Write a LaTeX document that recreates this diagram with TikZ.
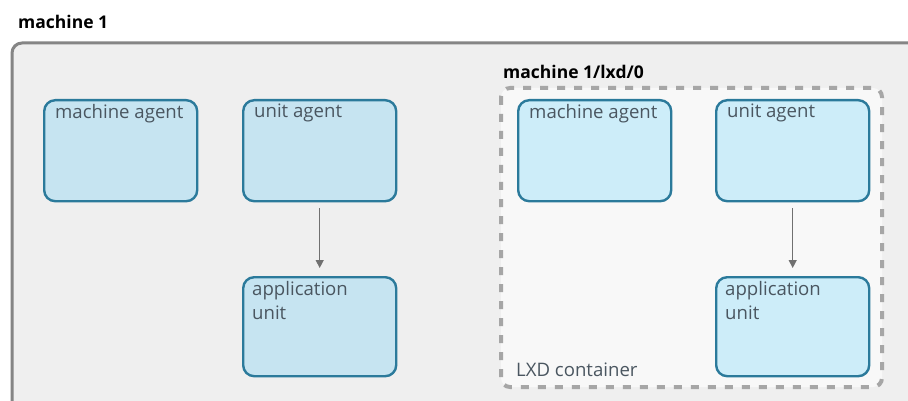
\documentclass[tikz,border=0pt]{standalone}
\usepackage{fontspec}
\setmainfont{Open Sans}
\usetikzlibrary{arrows.meta}
\definecolor{hostfill}{HTML}{EFEFEF}
\definecolor{hostline}{HTML}{858585}
\definecolor{lxdfill}{HTML}{F8F8F8}
\definecolor{lxdline}{HTML}{A6A6A6}
\definecolor{agentfillA}{HTML}{C6E4F1}
\definecolor{agentfillB}{HTML}{CDEDF9}
\definecolor{agentline}{HTML}{2B7A9B}
\definecolor{agenttext}{HTML}{4A5660}
\definecolor{linkline}{HTML}{707070}
\tikzset{
  agentbox/.style={draw=agentline, line width=2.4pt, rounded corners=11pt,
    minimum width=153pt, minimum height=101pt, anchor=north west, inner sep=0pt},
  agentlabel/.style={anchor=north west, align=left, text=agenttext,
    font=\fontsize{18.6}{24}\selectfont, inner sep=0pt},
  titlelabel/.style={anchor=base west, font=\bfseries\fontsize{17.5}{20}\selectfont, inner sep=0pt},
  link/.style={draw=linkline, line width=1.3pt, -{Triangle[length=8pt,width=8pt]}}
}
\begin{document}
\begin{tikzpicture}[x=1pt,y=-1pt]
\useasboundingbox (0,0) rectangle (908,401);
\fill[white] (0,0) rectangle (908,401);
% host machine frame, running past the right and bottom edges
\begin{scope}
\clip (0,0) rectangle (908,401);
\draw[hostline, fill=hostfill, line width=3pt, rounded corners=10pt] (12,43) rectangle (940,430);
\end{scope}
\node[titlelabel] (hosttitle) at (18,29) {machine 1};

% LXD container frame
\draw[lxdline, fill=lxdfill, line width=4pt, rounded corners=9pt, dash pattern=on 8pt off 9pt]
  (501,88) rectangle (882,387);
\node[titlelabel] (lxdtitle) at (503,79) {machine 1/lxd/0};
\node[anchor=base west, text=agenttext, font=\fontsize{18.6}{22}\selectfont, inner sep=0pt]
  (lxdlabel) at (516,376) {LXD container};

% agents on the host
\node[agentbox, fill=agentfillA] (hma) at (43,99) {};
\node[agentbox, fill=agentfillA] (hua) at (242,99) {};
\node[agentbox, fill=agentfillA, minimum height=99pt] (hau) at (242,276) {};
\node[agentlabel] at ([shift={(12,5)}]hma.north west) {machine agent};
\node[agentlabel] at ([shift={(12,5)}]hua.north west) {unit agent};
\node[agentlabel] at ([shift={(10,5)}]hau.north west) {application\\unit};
\draw[link] ([yshift=-6pt]hua.south) -- ([yshift=8pt]hau.north);

% agents in the container
\node[agentbox, fill=agentfillB] (cma) at (517,99) {};
\node[agentbox, fill=agentfillB] (cua) at (715,99) {};
\node[agentbox, fill=agentfillB, minimum height=99pt] (cau) at (715,276) {};
\node[agentlabel] at ([shift={(12,5)}]cma.north west) {machine agent};
\node[agentlabel] at ([shift={(12,5)}]cua.north west) {unit agent};
\node[agentlabel] at ([shift={(10,5)}]cau.north west) {application\\unit};
\draw[link] ([yshift=-6pt]cua.south) -- ([yshift=8pt]cau.north);
\end{tikzpicture}
\end{document}
